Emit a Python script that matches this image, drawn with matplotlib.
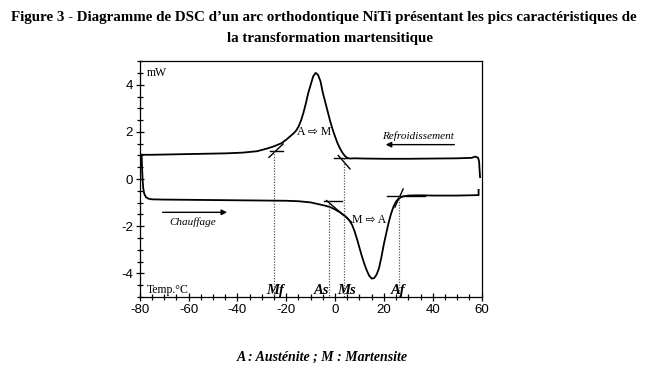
import numpy as np
import matplotlib.pyplot as plt
from matplotlib.ticker import MultipleLocator

plt.rcParams['axes.unicode_minus'] = False

# Refroidissement (courbe du haut), de 60 vers -80 °C
cool_T = [59.4, 59.2, 59.0, 58.6, 58.0, 57.3, 56, 50, 40, 30, 20, 12, 8, 6, 5, 4, 3, 2, 1, 0,
          -1, -2, -3, -4, -5, -6, -7, -8, -9, -10, -11, -12, -13, -14, -15, -16, -17, -18,
          -20, -22, -25, -28, -32, -38, -45, -55, -65, -75, -79.3]
cool_P = [0.08, 0.4, 0.75, 0.9, 0.93, 0.95, 0.9, 0.88, 0.87, 0.86, 0.86, 0.87, 0.88, 0.87, 0.9, 0.98,
          1.12, 1.3, 1.52, 1.8, 2.1, 2.45, 2.85, 3.25, 3.65, 4.15, 4.42, 4.5, 4.35, 4.0, 3.65,
          3.2, 2.8, 2.47, 2.22, 2.05, 1.94, 1.85, 1.67, 1.52, 1.39, 1.29, 1.18, 1.12, 1.09,
          1.07, 1.05, 1.03, 1.03]

# Chauffage (courbe du bas), de -80 vers 60 °C
heat_T = [-79.3, -79.1, -78.9, -78.6, -78.2, -77.5, -76.5, -75, -70, -60, -50, -40, -30, -20,
          -15, -10, -7, -4, -2, 0, 2, 4, 5, 6, 7, 8, 9, 10, 11, 12, 13, 14, 15, 16, 17, 18, 19,
          20, 21, 22, 23, 24, 25, 26, 27, 28, 30, 33, 36, 40, 50, 58.8, 58.8]
heat_P = [1.03, 0.5, 0.0, -0.4, -0.62, -0.77, -0.83, -0.86, -0.87, -0.88, -0.89, -0.9, -0.91,
          -0.92, -0.94, -0.99, -1.06, -1.13, -1.19, -1.29, -1.41, -1.56, -1.65, -1.78, -1.95,
          -2.22, -2.55, -2.92, -3.28, -3.6, -3.88, -4.1, -4.22, -4.2, -4.05, -3.78, -3.3, -2.75,
          -2.28, -1.82, -1.45, -1.15, -0.95, -0.83, -0.77, -0.73, -0.7, -0.69, -0.69, -0.7,
          -0.7, -0.68, -0.46]

# températures de transformation
trans_names = ['Mf', 'As', 'Ms', 'Af']
trans_T = [-25.0, -2.5, 3.6, 26.0]
trans_P = [1.2, -0.94, 0.88, -0.7]
label_T = [-24.7, -5.4, 4.9, 25.7]

# lignes de base et tangentes (x0, x1, y0, y1)
base_lines = [(-26.7, -21.3, 1.19, 1.19), (-0.5, 4.7, 0.88, 0.88),
              (-4.5, 2.9, -0.94, -0.94), (21.1, 36.8, -0.70, -0.70)]
tang_lines = [(-27.1, -21.3, 0.92, 1.49), (1.3, 6.1, 1.0, 0.43),
              (-3.5, 6.8, -0.91, -1.83), (24.5, 27.9, -1.19, -0.42)]

serif = ['Liberation Serif', 'DejaVu Serif']
sans = ['Liberation Sans', 'DejaVu Sans']

fig = plt.figure(figsize=(6.66, 3.86), dpi=100)
ax = fig.add_axes([0.210, 0.2306, 0.513, 0.611])

ax.plot(cool_T, cool_P, color='black', lw=1.3)
ax.plot(heat_T, heat_P, color='black', lw=1.3)

for x0, x1, y0, y1 in base_lines + tang_lines:
    ax.plot([x0, x1], [y0, y1], color='black', lw=1.0)

for name, t, p, lt in zip(trans_names, trans_T, trans_P, label_T):
    ax.plot([t, t], [p, -5], color='#555555', lw=0.9, ls=(0, (1, 1.2)))
    ax.text(lt, -4.72, name, ha='center', va='center', fontsize=10.5,
            fontweight='bold', fontstyle='italic', family=serif)

ax.text(-77.1, 4.5, 'mW', ha='left', va='center', fontsize=8.5, family=serif)
ax.text(-77.1, -4.72, 'Temp.°C', ha='left', va='center', fontsize=8.5, family=serif)
ax.text(-15.8, 1.98, 'A ⇨ M', ha='left', va='center', fontsize=8.5,
        family=['Liberation Serif', 'DejaVu Sans'])
ax.text(7.1, -1.72, 'M ⇨ A', ha='left', va='center', fontsize=8.5,
        family=['Liberation Serif', 'DejaVu Sans'])

ax.annotate('', xy=(19.6, 1.46), xytext=(50, 1.46),
            arrowprops=dict(arrowstyle='-|>', color='black', lw=1.0, mutation_scale=8))
ax.text(33.9, 1.84, 'Refroidissement', ha='center', va='center', fontsize=8,
        fontstyle='italic', family=serif)
ax.annotate('', xy=(-43.1, -1.41), xytext=(-71.8, -1.41),
            arrowprops=dict(arrowstyle='-|>', color='black', lw=1.0, mutation_scale=8))
ax.text(-58.5, -1.84, 'Chauffage', ha='center', va='center', fontsize=8,
        fontstyle='italic', family=serif)

ax.set_xlim(-80, 60)
ax.set_ylim(-5, 5)
ax.xaxis.set_major_locator(MultipleLocator(20))
ax.xaxis.set_minor_locator(MultipleLocator(5))
ax.yaxis.set_major_locator(MultipleLocator(2))
ax.yaxis.set_minor_locator(MultipleLocator(0.5))
ax.set_yticks([-4, -2, 0, 2, 4])
ax.tick_params(which='both', direction='inout', top=False, right=False, width=0.9)
ax.tick_params(which='major', length=6, pad=2)
ax.tick_params(which='minor', length=4)
for lab in ax.get_xticklabels() + ax.get_yticklabels():
    lab.set_family(sans)
    lab.set_fontsize(9.5)
for s in ax.spines.values():
    s.set_linewidth(0.9)

fig.text(0.486, 0.955, 'Figure 3 - Diagramme de DSC d\u2019un arc orthodontique NiTi présentant les pics caractéristiques de',
         ha='center', va='center', fontsize=10.8, fontweight='bold', family=serif)
fig.text(0.495, 0.90, 'la transformation martensitique',
         ha='center', va='center', fontsize=10.8, fontweight='bold', family=serif)
fig.text(0.484, 0.073, 'A : Austénite ; M : Martensite', ha='center', va='center',
         fontsize=10, fontweight='bold', fontstyle='italic', family=serif)

fig.savefig('out.png', dpi=100)
